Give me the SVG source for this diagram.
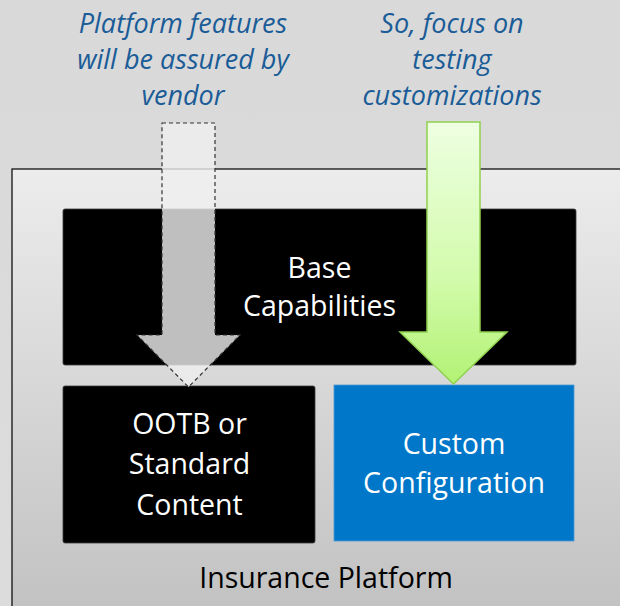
<svg xmlns="http://www.w3.org/2000/svg" width="620" height="606" viewBox="0 0 620 606">
  <defs>
    <linearGradient id="platGrad" x1="0" y1="0" x2="0" y2="1">
      <stop offset="0" stop-color="#ececec"/>
      <stop offset="1" stop-color="#c1c1c1"/>
    </linearGradient>
    <linearGradient id="greenGrad" x1="0" y1="122" x2="0" y2="384" gradientUnits="userSpaceOnUse">
      <stop offset="0" stop-color="#eeffe2"/>
      <stop offset="0.6" stop-color="#d2fbab"/>
      <stop offset="1" stop-color="#b2f274"/>
    </linearGradient>
    <linearGradient id="bgGrad" x1="0" y1="0" x2="0" y2="1">
      <stop offset="0" stop-color="#d9d9d9"/>
      <stop offset="1" stop-color="#dcdcdc"/>
    </linearGradient>
  </defs>
  <style>
    .note { font-family: "Open Sans", "Liberation Sans", sans-serif; font-style: italic; font-size: 27px; fill: #1a5c97; text-anchor: middle; }
    .lbl { font-family: "Open Sans", "Liberation Sans", sans-serif; font-size: 28.5px; text-anchor: middle; }
    .white { fill: #ffffff; }
    .dark { fill: #000000; }
    .box { fill: #000000; stroke: #3a3a3a; stroke-width: 0.8; }
  </style>

  <rect x="0" y="0" width="620" height="606" fill="url(#bgGrad)"/>

  <g id="notes">
    <text class="note" x="183" y="33">Platform features</text>
    <text class="note" x="183" y="69">will be assured by</text>
    <text class="note" x="183" y="105">vendor</text>
    <text class="note" x="452" y="33">So, focus on</text>
    <text class="note" x="452" y="69">testing</text>
    <text class="note" x="452" y="105">customizations</text>
  </g>

  <g id="insurance-platform">
    <rect x="12" y="169" width="620" height="450" fill="url(#platGrad)" stroke="#000" stroke-width="1.2"/>
    <text class="lbl dark" x="326" y="588">Insurance Platform</text>
  </g>

  <g id="base-capabilities">
    <rect class="box" x="63" y="209" width="513" height="156" rx="2"/>
    <text class="lbl white" x="319.5" y="278">Base</text>
    <text class="lbl white" x="319.5" y="316">Capabilities</text>
  </g>

  <g id="ootb-content">
    <rect class="box" x="63" y="386" width="252" height="157" rx="2"/>
    <text class="lbl white" x="189.5" y="434">OOTB or</text>
    <text class="lbl white" x="189.5" y="474">Standard</text>
    <text class="lbl white" x="189.5" y="515">Content</text>
  </g>

  <g id="custom-configuration">
    <rect x="334" y="385" width="240" height="156" fill="#0077c8" stroke="#4d9ad6" stroke-width="0.8"/>
    <text class="lbl white" x="454" y="454">Custom</text>
    <text class="lbl white" x="454" y="493">Configuration</text>
  </g>

  <g id="connectors">
    <path id="vendor-arrow" d="M162,123 H215 V335 H240 L188.5,387 L137,335 H162 Z" fill="#efefef" fill-opacity="0.8" stroke="#333" stroke-width="1.2" stroke-dasharray="4 3"/>
    <path id="focus-arrow" d="M427,122 H480 V332 H507 L453.5,384 L400,332 H427 Z" fill="url(#greenGrad)" stroke="#8fd14f" stroke-width="1.5"/>
  </g>
</svg>
